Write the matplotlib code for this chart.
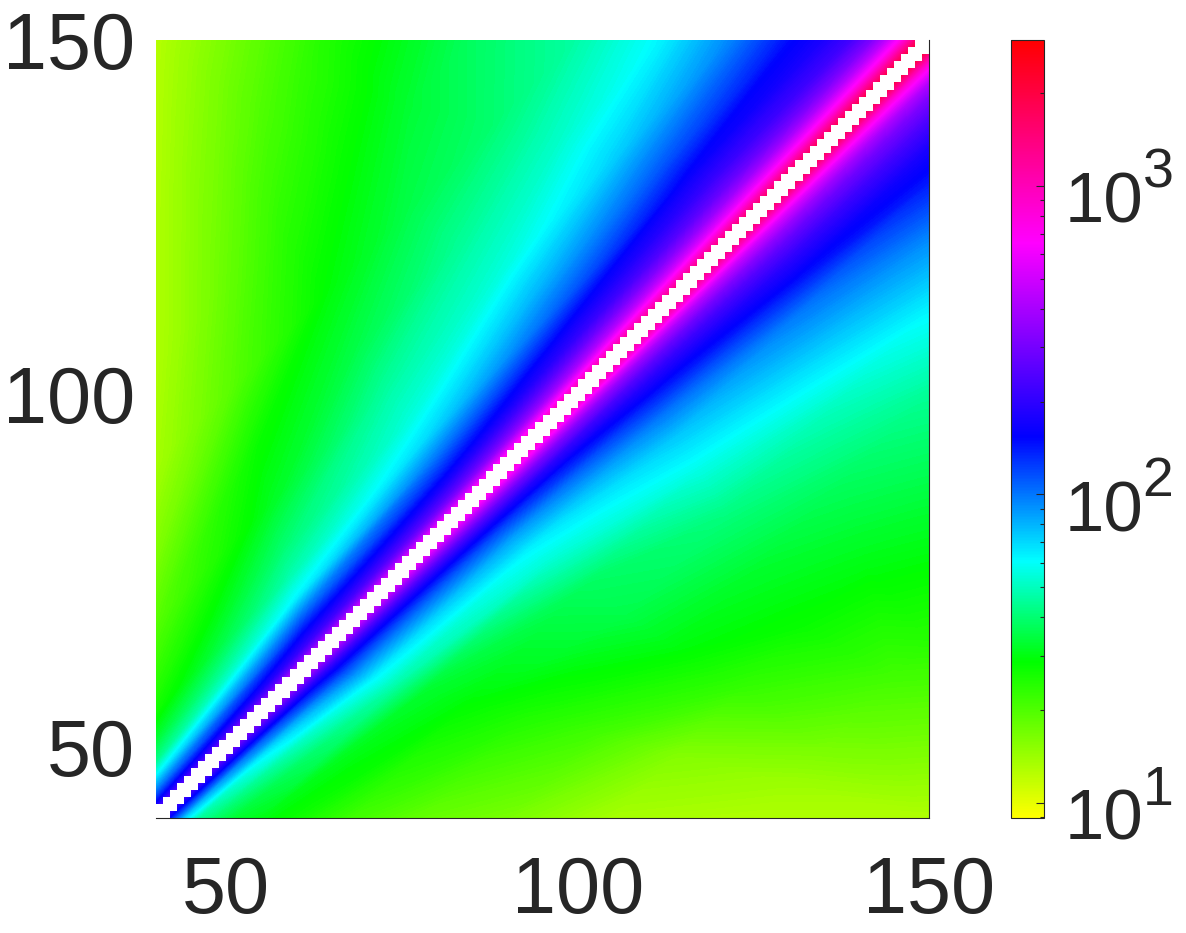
import numpy as np
import matplotlib
matplotlib.use("Agg")
import matplotlib.pyplot as plt
import matplotlib.tri as mtri
from matplotlib.colors import LinearSegmentedColormap, LogNorm, ListedColormap
from matplotlib.cm import ScalarMappable
from matplotlib.ticker import FixedLocator, NullFormatter

plt.rcParams['font.family'] = ['Liberation Sans', 'DejaVu Sans']

INK = '#262626'
ticks = [50, 100, 150]
cell_edges = np.arange(40, 151)
log_range = (0.951, 3.473)
bar_decades = [1, 2, 3]

# distance from the diagonal, and stations along each line parallel to it
offsets = [1, 2, 3, 4, 6, 8, 11, 15, 20, 28, 38, 50, 65, 85, 110]
stations = [0, 0.2, 0.4, 0.6, 0.8, 1.0]

log_upper = [
    [2.35, 2.62, 2.82, 3.05, 3.20, 3.30],
    [2.20, 2.45, 2.65, 2.90, 3.05, 3.15],
    [2.08, 2.33, 2.50, 2.75, 2.90, 3.00],
    [1.97, 2.26, 2.40, 2.62, 2.77, 2.85],
    [1.78, 2.13, 2.25, 2.45, 2.58, 2.65],
    [1.63, 2.00, 2.14, 2.32, 2.45, 2.50],
    [1.52, 1.80, 2.00, 2.20, 2.32, 2.35],
    [1.42, 1.68, 1.84, 2.03, 2.20, 2.25],
    [1.36, 1.60, 1.74, 1.90, 2.05, 2.17],
    [1.28, 1.50, 1.66, 1.74, 1.86, 1.98],
    [1.20, 1.44, 1.55, 1.65, 1.72, 1.80],
    [1.13, 1.30, 1.46, 1.55, 1.60, 1.67],
    [1.11, 1.24, 1.37, 1.45, 1.52, 1.58],
    [1.11, 1.18, 1.24, 1.30, 1.35, 1.40],
    [1.10, 1.10, 1.10, 1.10, 1.10, 1.10],
]
# the same, below the diagonal
log_lower = [
    [2.30, 2.62, 2.85, 3.03, 3.20, 3.30],
    [2.15, 2.47, 2.70, 2.88, 3.02, 3.12],
    [2.00, 2.33, 2.55, 2.70, 2.85, 2.95],
    [1.85, 2.22, 2.42, 2.57, 2.72, 2.82],
    [1.66, 2.07, 2.22, 2.40, 2.55, 2.62],
    [1.60, 1.95, 2.08, 2.28, 2.43, 2.50],
    [1.52, 1.80, 1.93, 2.15, 2.30, 2.38],
    [1.48, 1.68, 1.80, 2.00, 2.17, 2.25],
    [1.43, 1.52, 1.72, 1.87, 2.00, 2.15],
    [1.33, 1.46, 1.58, 1.75, 1.86, 1.97],
    [1.26, 1.40, 1.55, 1.62, 1.70, 1.80],
    [1.22, 1.33, 1.47, 1.52, 1.58, 1.65],
    [1.13, 1.20, 1.35, 1.44, 1.48, 1.53],
    [1.11, 1.15, 1.22, 1.28, 1.33, 1.38],
    [1.11, 1.11, 1.11, 1.11, 1.11, 1.11],
]

cmap = LinearSegmentedColormap.from_list('rainbow_log', [
    (0.00, '#ffff00'), (0.20, '#00ff00'), (0.33, '#00ffff'),
    (0.49, '#0000ff'), (0.74, '#ff00ff'), (1.00, '#ff0000')], N=512)

# mesh of the read values: lines parallel to the diagonal on both sides
dd = np.array(offsets, float)[:, None]
ff = np.array(stations, float)[None, :]
along = 40 + ff * (110 - dd)
xs = np.concatenate([along.ravel(), (along + dd).ravel()])
ys = np.concatenate([(along + dd).ravel(), along.ravel()])
zs = np.concatenate([np.ravel(log_upper), np.ravel(log_lower)])

n_r, n_c = len(offsets), len(stations)
tris = []
for side in range(2):
    base = side * n_r * n_c
    for r in range(n_r - 1):
        for c in range(n_c - 1):
            a = base + r * n_c + c
            b, d, e = a + 1, a + n_c, a + n_c + 1
            tris += [[a, b, e], [a, e, d]]
tris = np.array(tris)
area = np.abs((xs[tris[:, 1]] - xs[tris[:, 0]]) * (ys[tris[:, 2]] - ys[tris[:, 0]])
              - (xs[tris[:, 2]] - xs[tris[:, 0]]) * (ys[tris[:, 1]] - ys[tris[:, 0]]))
tris = tris[area > 1e-9]
tri = mtri.Triangulation(xs, ys, tris)

fig = plt.figure(figsize=(11.86, 9.33), dpi=100)
W, H = 1186, 933
ax = fig.add_axes([156 / W, (H - 818) / H, 773 / W, 778 / H])
ax.tricontourf(tri, zs, levels=np.linspace(*log_range, 300), cmap=cmap,
               vmin=log_range[0], vmax=log_range[1], extend='both', antialiased=False)

# the blank band of cells on the diagonal
idx = cell_edges[:-1]
blank = np.abs(idx[None, :] - idx[:, None]) <= 1
ax.pcolormesh(cell_edges, cell_edges, np.ma.masked_where(~blank, blank.astype(float)),
              cmap=ListedColormap(['white']), antialiased=False)

ax.set_xlim(40, 150)
ax.set_ylim(40, 150)
ax.set_xticks(ticks)
ax.set_yticks(ticks)
ax.tick_params(axis='x', length=0, pad=27, labelsize=57, labelcolor=INK)
ax.tick_params(axis='y', length=0, pad=15, labelsize=57, labelcolor=INK)
ax.spines['top'].set_visible(False)
ax.spines['left'].set_visible(False)
for name in ('bottom', 'right'):
    ax.spines[name].set_color(INK)
    ax.spines[name].set_linewidth(0.8)

cax = fig.add_axes([1011 / W, (H - 818) / H, 33 / W, 778 / H])
sm = ScalarMappable(norm=LogNorm(10 ** log_range[0], 10 ** log_range[1]), cmap=cmap)
cb = fig.colorbar(sm, cax=cax)
cb.outline.set_edgecolor(INK)
cb.outline.set_linewidth(0.8)
cax.yaxis.set_major_locator(FixedLocator([10.0 ** e for e in bar_decades]))
cax.yaxis.set_minor_locator(FixedLocator([m * 10.0 ** e for e in bar_decades for m in range(2, 10)
                                          if m * 10.0 ** e < 10 ** log_range[1]] + [9]))
cax.yaxis.set_minor_formatter(NullFormatter())
cax.set_yticklabels([])
cax.tick_params(which='major', direction='in', length=5.5, width=0.8, color=INK)
cax.tick_params(which='minor', direction='in', length=2.7, width=0.8, color=INK)
for e in bar_decades:
    cax.annotate('10', xy=(1, 10.0 ** e), xycoords=('axes fraction', 'data'),
                 xytext=(15, -26.6), textcoords='offset points', ha='left', va='baseline',
                 fontsize=51, color=INK, annotation_clip=False)
    cax.annotate(str(e), xy=(1, 10.0 ** e), xycoords=('axes fraction', 'data'),
                 xytext=(71, -1.5), textcoords='offset points', ha='left', va='baseline',
                 fontsize=40, color=INK, annotation_clip=False)

fig.savefig('out.png', dpi=100)
